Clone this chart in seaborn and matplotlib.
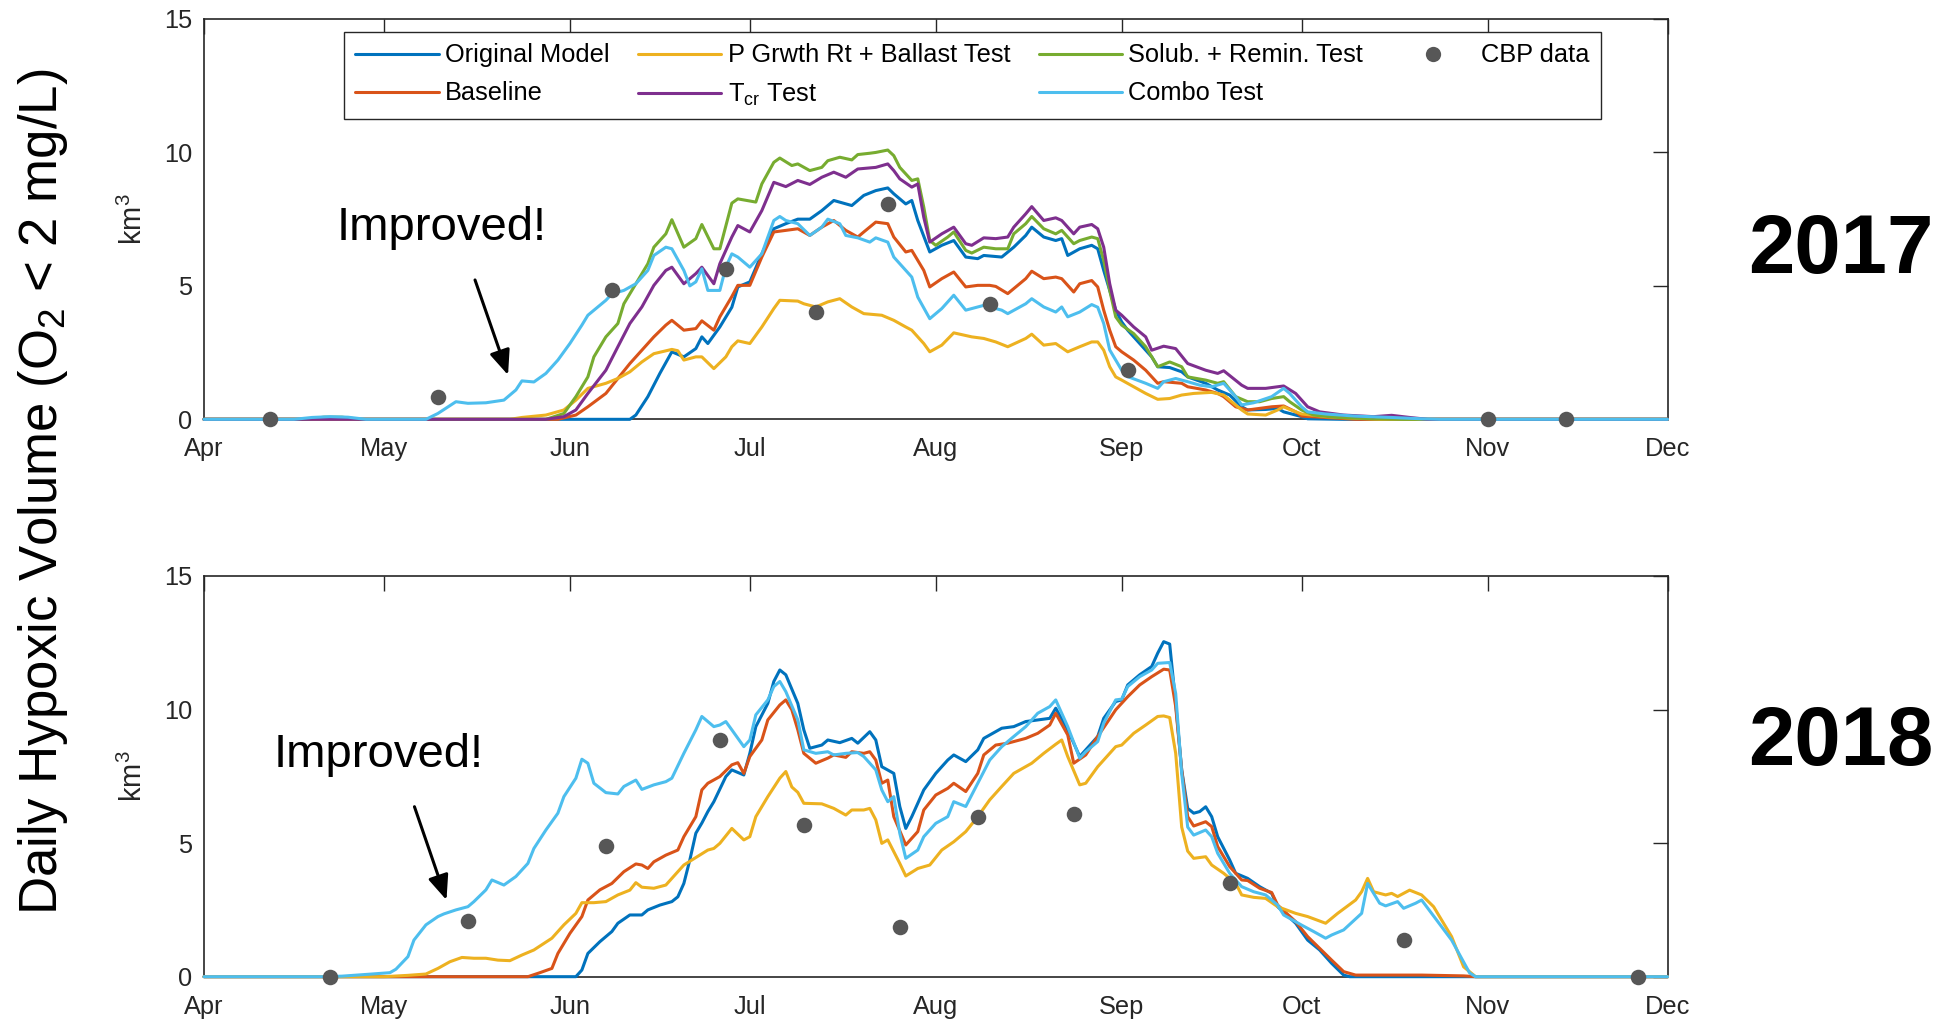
import matplotlib
matplotlib.use("Agg")
import matplotlib.pyplot as plt
from matplotlib.lines import Line2D
import pandas as pd
import seaborn as sns

# ---------------------------------------------------------------------------
# Season axis: days since 1 April, month starts used as ticks
# ---------------------------------------------------------------------------
MONTH_STARTS = [0, 30, 61, 91, 122, 153, 183, 214, 244]
MONTH_LABELS = ["Apr", "May", "Jun", "Jul", "Aug", "Sep", "Oct", "Nov", "Dec"]
Y_TICKS = [0, 5, 10, 15]

RUNS = ["Original Model", "Baseline", "P Grwth Rt + Ballast Test",
        r"T$_{\rm cr}$ Test", "Solub. + Remin. Test", "Combo Test"]
RUN_COLORS = ["#0072BD", "#D95319", "#EDB120", "#7E2F8E", "#77AC30", "#4DBEEE"]
CBP_COLOR = "#575757"

# ---------------------------------------------------------------------------
# 2017 daily hypoxic volume (day since Apr 1, km^3)
# ---------------------------------------------------------------------------
orig_2017 = [(0, 0), (71, 0), (72, 0.16), (74, 0.85), (76, 1.72), (78, 2.53), (80, 2.34),
             (82, 2.65), (83, 3.09), (84, 2.84), (86, 3.46), (88, 4.2), (89, 4.96), (91, 5.15),
             (93, 6.2), (95, 7.14), (97, 7.33), (99, 7.5), (101, 7.5), (103, 7.82), (105, 8.2),
             (108, 8.01), (110, 8.39), (112, 8.57), (114, 8.67), (115, 8.45), (117, 8.07),
             (118, 8.2), (119, 7.45), (121, 6.27), (123, 6.52), (125, 6.7), (127, 6.08),
             (129, 6.02), (130, 6.14), (133, 6.08), (135, 6.45), (137, 6.89), (138, 7.2),
             (140, 6.83), (142, 6.7), (143, 6.77), (144, 6.14), (146, 6.39), (148, 6.52),
             (149, 6.39), (150, 5.58), (151, 4.83), (152, 4.09), (153, 3.65), (154, 3.34),
             (156, 2.84), (158, 2.34), (159, 1.97), (161, 1.94), (163, 1.78), (164, 1.59),
             (167, 1.35), (169, 1.1), (171, 0.91), (173, 0.47), (174, 0.35), (177, 0.37),
             (179, 0.41), (180, 0.28), (183, 0.1), (184, 0.02), (190, 0), (244, 0)]

base_2017 = [(0, 0), (59, 0), (62, 0.16), (64, 0.47), (67, 0.97), (69, 1.53), (71, 2.09),
             (73, 2.59), (75, 3.09), (77, 3.53), (78, 3.71), (80, 3.34), (82, 3.4), (83, 3.69),
             (85, 3.34), (86, 3.84), (88, 4.6), (89, 5.02), (91, 5.02), (93, 6.08), (95, 7.02),
             (97, 7.08), (99, 7.14), (101, 6.89), (103, 7.2), (105, 7.45), (107, 7.08),
             (109, 6.83), (110, 7.02), (112, 7.39), (114, 7.33), (115, 6.83), (117, 6.27),
             (118, 6.33), (120, 5.58), (121, 4.96), (123, 5.27), (125, 5.52), (127, 4.96),
             (129, 5.02), (131, 5.02), (132, 4.98), (134, 4.71), (137, 5.27), (138, 5.55),
             (140, 5.27), (142, 5.33), (143, 5.27), (145, 4.77), (146, 5.08), (148, 5.2),
             (149, 4.96), (150, 4.09), (151, 3.34), (152, 2.72), (153, 2.53), (155, 2.22),
             (157, 1.84), (159, 1.35), (160, 1.41), (163, 1.35), (164, 1.22), (167, 1.1),
             (169, 0.97), (170, 0.85), (172, 0.47), (174, 0.35), (176, 0.41), (178, 0.47),
             (180, 0.5), (182, 0.28), (183, 0.12), (187, 0.07), (192, 0), (244, 0)]

pgr_2017 = [(0, 0), (51, 0), (53, 0.07), (57, 0.16), (60, 0.35), (62, 0.72), (64, 1.16),
            (67, 1.35), (69, 1.53), (71, 1.78), (73, 2.15), (75, 2.46), (78, 2.62), (79, 2.57),
            (80, 2.22), (82, 2.34), (83, 2.34), (85, 1.9), (87, 2.34), (88, 2.72), (89, 2.94),
            (91, 2.84), (93, 3.46), (95, 4.15), (96, 4.46), (99, 4.43), (100, 4.33), (102, 4.21),
            (104, 4.4), (106, 4.52), (108, 4.21), (110, 3.96), (113, 3.9), (115, 3.71),
            (117, 3.46), (118, 3.34), (120, 2.84), (121, 2.53), (123, 2.78), (125, 3.24),
            (128, 3.09), (130, 3.03), (132, 2.9), (134, 2.72), (137, 3.03), (138, 3.19),
            (140, 2.78), (142, 2.84), (144, 2.53), (146, 2.72), (148, 2.9), (149, 2.9),
            (150, 2.59), (151, 1.97), (152, 1.59), (153, 1.47), (155, 1.22), (157, 0.97),
            (159, 0.75), (161, 0.78), (163, 0.91), (165, 0.97), (168, 1.01), (170, 0.91),
            (171, 0.72), (173, 0.35), (174, 0.2), (177, 0.16), (179, 0.35), (180, 0.47),
            (181, 0.37), (183, 0.2), (187, 0.1), (192, 0.04), (196, 0), (244, 0)]

tcr_2017 = [(0, 0), (57, 0), (60, 0.1), (62, 0.35), (64, 0.97), (67, 1.84), (69, 2.72),
            (71, 3.59), (73, 4.21), (75, 5.02), (77, 5.58), (78, 5.7), (80, 5.08), (82, 5.46),
            (83, 5.7), (85, 5.08), (86, 5.83), (88, 6.83), (89, 7.26), (91, 7.02), (93, 7.82),
            (95, 8.88), (97, 8.72), (99, 8.95), (101, 8.8), (103, 9.07), (105, 9.26),
            (107, 9.07), (109, 9.38), (112, 9.44), (114, 9.57), (115, 9.32), (116, 9.01),
            (118, 8.7), (119, 8.82), (120, 7.57), (121, 6.64), (123, 6.95), (125, 7.2),
            (127, 6.58), (128, 6.52), (130, 6.8), (132, 6.77), (134, 6.83), (135, 7.2),
            (137, 7.7), (138, 7.97), (140, 7.45), (142, 7.55), (143, 7.45), (145, 6.95),
            (146, 7.2), (148, 7.3), (149, 7.14), (150, 6.45), (151, 5.08), (152, 4.09),
            (153, 3.9), (155, 3.46), (157, 3.09), (158, 2.59), (160, 2.74), (162, 2.65),
            (164, 2.09), (167, 1.84), (169, 1.72), (170, 1.82), (173, 1.28), (174, 1.16),
            (177, 1.16), (178, 1.19), (180, 1.25), (182, 0.97), (184, 0.47), (186, 0.28),
            (190, 0.16), (195, 0.1), (198, 0.15), (201, 0.07), (204, 0), (244, 0)]

sol_2017 = [(0, 0), (17, 0), (20, 0.08), (23, 0.08), (26, 0), (57, 0), (60, 0.22), (62, 0.85),
            (64, 1.59), (65, 2.34), (67, 3.09), (69, 3.59), (70, 4.33), (72, 5.08), (74, 5.83),
            (75, 6.45), (77, 6.95), (78, 7.48), (80, 6.45), (82, 6.77), (83, 7.3), (85, 6.39),
            (86, 6.39), (88, 8.1), (89, 8.26), (92, 8.14), (93, 8.82), (95, 9.63), (96, 9.79),
            (98, 9.51), (99, 9.57), (101, 9.32), (103, 9.44), (104, 9.69), (106, 9.82),
            (108, 9.72), (109, 9.92), (111, 9.97), (112, 10.0), (114, 10.09), (115, 9.88),
            (116, 9.44), (118, 8.95), (119, 9.01), (120, 7.95), (121, 6.7), (122, 6.52),
            (124, 6.83), (125, 7.02), (127, 6.33), (128, 6.23), (130, 6.45), (132, 6.39),
            (134, 6.39), (135, 6.95), (137, 7.33), (138, 7.6), (140, 7.14), (142, 6.95),
            (143, 7.08), (145, 6.58), (146, 6.7), (148, 6.83), (149, 6.77), (150, 5.95),
            (151, 4.83), (152, 3.84), (153, 3.53), (155, 3.21), (157, 2.72), (159, 1.97),
            (161, 2.15), (163, 1.97), (164, 1.59), (167, 1.47), (169, 1.35), (170, 1.41),
            (172, 0.85), (174, 0.66), (176, 0.66), (178, 0.78), (180, 0.85), (181, 0.66),
            (183, 0.35), (185, 0.16), (189, 0.07), (195, 0.02), (200, 0), (244, 0)]

combo_2017 = [(0, 0), (15, 0), (18, 0.07), (21, 0.1), (24, 0.08), (27, 0), (37, 0), (39, 0.22),
              (42, 0.66), (44, 0.6), (47, 0.62), (50, 0.72), (52, 1.1), (53, 1.44), (55, 1.4),
              (57, 1.72), (59, 2.22), (61, 2.84), (63, 3.53), (64, 3.9), (67, 4.46), (68, 4.7),
              (70, 4.83), (72, 5.08), (74, 5.58), (75, 6.14), (77, 6.45), (78, 6.39),
              (80, 5.58), (81, 5.0), (82, 5.15), (83, 5.64), (84, 4.83), (86, 4.83), (87, 5.7),
              (88, 6.2), (89, 6.08), (91, 5.7), (93, 6.2), (95, 7.45), (96, 7.6), (97, 7.45),
              (99, 7.33), (101, 6.89), (103, 7.2), (104, 7.5), (106, 7.33), (107, 6.89),
              (109, 6.8), (111, 6.64), (112, 6.8), (114, 6.64), (115, 6.08), (117, 5.58),
              (118, 5.33), (119, 4.58), (121, 3.77), (123, 4.15), (124, 4.4), (125, 4.65),
              (127, 4.09), (129, 4.21), (130, 4.27), (133, 4.09), (134, 3.96), (137, 4.33),
              (138, 4.52), (140, 4.21), (142, 4.02), (143, 4.21), (144, 3.84), (146, 4.02),
              (148, 4.3), (149, 4.2), (150, 3.59), (151, 2.6), (152, 2.22), (153, 1.84),
              (154, 1.6), (157, 1.35), (159, 1.16), (160, 1.41), (162, 1.53), (164, 1.41),
              (166, 1.28), (168, 1.22), (170, 1.35), (172, 0.85), (173, 0.54), (175, 0.62),
              (178, 0.85), (180, 1.16), (181, 0.97), (183, 0.47), (184, 0.28), (187, 0.2),
              (192, 0.12), (198, 0.07), (203, 0.02), (206, 0), (244, 0)]

cbp_day_2017 = [11, 39, 68, 87, 102, 114, 131, 154, 214, 227]
cbp_vol_2017 = [0, 0.82, 4.83, 5.62, 4.03, 8.05, 4.31, 1.84, 0, 0]

# ---------------------------------------------------------------------------
# 2018 daily hypoxic volume (day since Apr 1, km^3)
# ---------------------------------------------------------------------------
orig_2018 = [(0, 0), (62, 0), (63, 0.25), (64, 0.87), (66, 1.31), (68, 1.69), (69, 2.0),
             (71, 2.31), (73, 2.31), (74, 2.5), (76, 2.68), (78, 2.81), (79, 2.99), (80, 3.49),
             (81, 4.37), (82, 5.37), (83, 5.75), (84, 6.18), (85, 6.55), (87, 7.49), (88, 7.74),
             (90, 7.55), (91, 8.36), (92, 9.36), (94, 10.23), (95, 11.05), (96, 11.48),
             (97, 11.3), (99, 10.23), (100, 9.24), (101, 8.55), (103, 8.67), (104, 8.86),
             (106, 8.76), (108, 8.92), (109, 8.74), (111, 9.17), (112, 8.86), (113, 7.86),
             (115, 7.61), (116, 6.37), (117, 5.55), (118, 5.99), (120, 6.99), (122, 7.61),
             (124, 8.11), (125, 8.3), (127, 8.05), (129, 8.49), (130, 8.92), (133, 9.3),
             (135, 9.36), (137, 9.55), (139, 9.61), (141, 9.67), (142, 10.05), (144, 9.24),
             (146, 8.24), (147, 8.49), (149, 8.99), (150, 9.67), (152, 10.3), (153, 10.36),
             (154, 10.92), (156, 11.3), (158, 11.61), (159, 12.11), (160, 12.54), (161, 12.45),
             (162, 10.23), (163, 7.74), (164, 6.3), (165, 6.12), (166, 6.18), (167, 6.36),
             (168, 5.99), (169, 5.24), (171, 4.37), (172, 3.87), (174, 3.68), (176, 3.37),
             (178, 3.12), (179, 2.62), (182, 2.0), (184, 1.37), (186, 1.0), (188, 0.5),
             (190, 0.06), (191, 0), (244, 0)]

base_2018 = [(0, 0), (54, 0), (56, 0.15), (58, 0.31), (59, 0.87), (61, 1.62), (63, 2.25),
             (64, 2.87), (66, 3.25), (68, 3.49), (70, 3.93), (72, 4.22), (73, 4.18), (74, 4.05),
             (75, 4.3), (77, 4.55), (79, 4.74), (80, 5.24), (82, 5.99), (83, 6.99), (84, 7.24),
             (86, 7.49), (88, 7.93), (89, 8.01), (90, 7.61), (91, 8.24), (93, 8.86), (94, 9.61),
             (96, 10.17), (97, 10.36), (98, 9.99), (99, 9.24), (100, 8.36), (102, 7.99),
             (104, 8.18), (105, 8.3), (107, 8.21), (108, 8.42), (110, 8.36), (111, 8.42),
             (112, 8.11), (113, 7.24), (114, 7.36), (115, 5.99), (117, 4.93), (119, 5.43),
             (120, 6.24), (122, 6.8), (124, 7.05), (125, 7.24), (127, 6.93), (129, 7.61),
             (130, 8.3), (132, 8.67), (134, 8.74), (137, 8.92), (139, 9.11), (141, 9.42),
             (142, 9.86), (144, 9.05), (145, 7.99), (147, 8.3), (149, 8.99), (152, 9.99),
             (154, 10.48), (156, 10.92), (158, 11.23), (160, 11.51), (161, 11.48),
             (162, 10.11), (163, 7.74), (164, 5.99), (165, 5.64), (167, 5.8), (168, 5.62),
             (169, 4.87), (171, 4.12), (173, 3.62), (174, 3.6), (176, 3.31), (178, 3.15),
             (179, 2.68), (182, 2.06), (184, 1.5), (186, 1.06), (188, 0.62), (190, 0.19),
             (192, 0.06), (203, 0.06), (210, 0.03), (212, 0), (244, 0)]

pgr_2018 = [(0, 0), (30, 0), (34, 0.05), (37, 0.1), (39, 0.31), (41, 0.56), (43, 0.72),
            (45, 0.69), (47, 0.69), (49, 0.62), (51, 0.6), (53, 0.81), (55, 1.0), (58, 1.44),
            (60, 1.94), (62, 2.37), (63, 2.77), (65, 2.77), (67, 2.81), (69, 3.06), (71, 3.24),
            (72, 3.52), (73, 3.35), (75, 3.31), (77, 3.43), (78, 3.68), (80, 4.18), (83, 4.6),
            (84, 4.74), (85, 4.8), (86, 4.99), (88, 5.55), (90, 5.12), (91, 5.24), (92, 5.99),
            (94, 6.74), (96, 7.43), (97, 7.68), (98, 7.1), (99, 6.9), (100, 6.49), (103, 6.47),
            (105, 6.3), (107, 6.05), (108, 6.24), (110, 6.24), (111, 6.3), (112, 5.87),
            (113, 4.99), (114, 5.12), (116, 4.24), (117, 3.77), (119, 4.05), (121, 4.18),
            (123, 4.74), (125, 5.05), (127, 5.43), (129, 5.99), (131, 6.62), (133, 7.12),
            (135, 7.61), (138, 7.99), (140, 8.36), (142, 8.7), (143, 8.86), (144, 8.24),
            (146, 7.18), (147, 7.24), (149, 7.86), (152, 8.61), (153, 8.67), (155, 9.11),
            (157, 9.42), (159, 9.74), (160, 9.76), (161, 9.7), (162, 8.36), (163, 5.6),
            (164, 4.7), (165, 4.43), (167, 4.49), (168, 4.18), (170, 3.87), (172, 3.5),
            (173, 3.06), (175, 2.97), (177, 2.93), (179, 2.62), (182, 2.37), (184, 2.25),
            (187, 2.0), (189, 2.37), (192, 2.87), (193, 3.18), (194, 3.68), (195, 3.18),
            (197, 3.06), (198, 3.12), (199, 3.0), (201, 3.24), (203, 3.06), (205, 2.62),
            (208, 1.5), (210, 0.37), (212, 0), (244, 0)]

combo_2018 = [(0, 0), (20, 0), (23, 0.02), (28, 0.1), (31, 0.15), (32, 0.28), (34, 0.75),
              (35, 1.37), (37, 1.94), (39, 2.25), (40, 2.35), (42, 2.5), (44, 2.62), (45, 2.81),
              (47, 3.25), (48, 3.62), (50, 3.43), (52, 3.75), (54, 4.24), (55, 4.8), (57, 5.49),
              (59, 6.12), (60, 6.74), (62, 7.43), (63, 8.14), (64, 7.99), (65, 7.24), (67, 6.89),
              (69, 6.84), (70, 7.12), (72, 7.36), (73, 7.01), (75, 7.18), (77, 7.3), (78, 7.43),
              (80, 8.36), (82, 9.24), (83, 9.74), (85, 9.36), (86, 9.42), (87, 9.55), (88, 9.24),
              (90, 8.61), (91, 8.86), (92, 9.8), (94, 10.36), (95, 10.86), (96, 11.05),
              (97, 10.67), (99, 9.61), (100, 8.49), (102, 8.36), (104, 8.42), (105, 8.3),
              (107, 8.36), (109, 8.39), (110, 8.24), (112, 7.74), (113, 6.99), (114, 6.55),
              (115, 6.74), (116, 5.37), (117, 4.43), (119, 4.74), (120, 5.24), (122, 5.74),
              (124, 5.99), (125, 6.55), (127, 6.37), (129, 7.24), (131, 8.11), (133, 8.61),
              (135, 8.99), (137, 9.36), (139, 9.86), (141, 10.11), (142, 10.36), (144, 9.36),
              (146, 8.18), (147, 8.42), (149, 8.8), (150, 9.49), (152, 10.36), (153, 10.39),
              (154, 10.86), (156, 11.23), (158, 11.48), (159, 11.73), (161, 11.76),
              (162, 10.6), (163, 7.6), (164, 5.6), (165, 5.3), (167, 5.49), (168, 5.24),
              (169, 4.62), (171, 3.87), (173, 3.37), (175, 3.18), (177, 3.06), (179, 2.68),
              (180, 2.31), (183, 1.93), (185, 1.69), (187, 1.44), (188, 1.56), (190, 1.75),
              (193, 2.37), (194, 3.49), (196, 2.75), (197, 2.65), (199, 2.81), (200, 2.56),
              (202, 2.75), (203, 2.87), (208, 1.37), (211, 0.14), (212, 0), (244, 0)]

cbp_day_2018 = [21, 44, 67, 86, 100, 116, 129, 145, 171, 200, 239]
cbp_vol_2018 = [0, 2.09, 4.89, 8.86, 5.68, 1.86, 5.96, 6.1, 3.49, 1.39, 0]


def to_frame(series):
    rows = []
    for run, points in series.items():
        for day, vol in points:
            rows.append({"run": run, "day": day, "volume": vol})
    return pd.DataFrame(rows)


runs_2017 = to_frame({
    RUNS[0]: orig_2017, RUNS[1]: base_2017, RUNS[2]: pgr_2017,
    RUNS[4]: sol_2017, RUNS[3]: tcr_2017, RUNS[5]: combo_2017,
})
runs_2018 = to_frame({
    RUNS[0]: orig_2018, RUNS[1]: base_2018, RUNS[2]: pgr_2018, RUNS[5]: combo_2018,
})
cbp_2017 = pd.DataFrame({"day": cbp_day_2017, "volume": cbp_vol_2017})
cbp_2018 = pd.DataFrame({"day": cbp_day_2018, "volume": cbp_vol_2018})

# ---------------------------------------------------------------------------
# Styling
# ---------------------------------------------------------------------------
sns.set_theme(style="white")
plt.rcParams["font.family"] = ["Liberation Sans", "DejaVu Sans"]
plt.rcParams["mathtext.fontset"] = "custom"
plt.rcParams["mathtext.rm"] = "Liberation Sans"
plt.rcParams["mathtext.it"] = "Liberation Sans:italic"
plt.rcParams["mathtext.bf"] = "Liberation Sans:bold"
plt.rcParams["text.color"] = "black"

AX_COLOR = "#262626"
TICK_FS = 18.3
palette = dict(zip(RUNS, RUN_COLORS))

fig = plt.figure(figsize=(19.54, 10.21), dpi=100)
ax_top = fig.add_axes([0.1044, 0.5893, 0.7490, 0.3921])
ax_bot = fig.add_axes([0.1044, 0.0434, 0.7490, 0.3925])


def draw_panel(ax, runs, cbp):
    order = [r for r in [RUNS[0], RUNS[1], RUNS[2], RUNS[4], RUNS[3], RUNS[5]]
             if r in set(runs["run"])]
    sns.lineplot(data=runs, x="day", y="volume", hue="run", hue_order=order,
                 palette=palette, estimator=None, sort=False, linewidth=2.2,
                 legend=False, clip_on=False, zorder=3, ax=ax)
    sns.scatterplot(data=cbp, x="day", y="volume", color=CBP_COLOR, s=125,
                    linewidth=0, clip_on=False, zorder=4, legend=False, ax=ax)
    ax.set_xlim(MONTH_STARTS[0], MONTH_STARTS[-1])
    ax.set_ylim(0, 15)
    ax.set_xticks(MONTH_STARTS)
    ax.set_xticklabels(MONTH_LABELS)
    ax.set_yticks(Y_TICKS)
    ax.set_xlabel("")
    ax.set_ylabel("km$^{3}$", fontsize=21, color=AX_COLOR, va="center")
    ax.yaxis.set_label_coords(-0.0485, 0.5)
    ax.tick_params(direction="in", length=10.5, width=1.0, top=True, right=True,
                   labelsize=TICK_FS, color=AX_COLOR, labelcolor=AX_COLOR)
    ax.tick_params(axis="x", pad=13)
    ax.tick_params(axis="y", pad=8.5)
    for sp in ax.spines.values():
        sp.set_visible(True)
        sp.set_color(AX_COLOR)
        sp.set_linewidth(1.2)
    ax.set_facecolor("white")


draw_panel(ax_top, runs_2017, cbp_2017)
draw_panel(ax_bot, runs_2018, cbp_2018)

# Legend (column-wise: 2 rows x 4 columns)
handles = [Line2D([], [], color=c, lw=2.2) for c in RUN_COLORS]
labels = list(RUNS)
handles.append(Line2D([], [], ls="none", marker="o", markersize=11,
                      markerfacecolor=CBP_COLOR, markeredgewidth=0))
labels.append("CBP data")
leg = ax_top.legend(handles, labels, ncol=4, loc="upper left",
                    bbox_to_anchor=(0.0957, 0.9675), borderaxespad=0,
                    fontsize=TICK_FS, frameon=True, fancybox=False, framealpha=1,
                    edgecolor=AX_COLOR, handlelength=3.27, handletextpad=0.25,
                    columnspacing=1.12, borderpad=0.45, labelspacing=0.55)
leg.get_frame().set_linewidth(1.0)
for t in leg.get_texts():
    t.set_color("black")

# Shared quantity label and year tags
fig.text(0.022, 0.518, r"Daily Hypoxic Volume (O$_{\rm 2}$ < 2 mg/L)", rotation=90,
         ha="center", va="center", fontsize=38, color="black")
fig.text(0.942, 0.754, "2017", ha="center", va="center", fontsize=60,
         fontweight="bold", color="black")
fig.text(0.942, 0.2723, "2018", ha="center", va="center", fontsize=60,
         fontweight="bold", color="black")

# "Improved!" callouts with arrows
fig.text(0.1723, 0.7649, "Improved!", ha="left", va="baseline", fontsize=34, color="black")
fig.text(0.1402, 0.249, "Improved!", ha="left", va="baseline", fontsize=34, color="black")
arrow = dict(arrowstyle="-|>,head_length=0.6,head_width=0.25", lw=2.2,
             color="black", mutation_scale=25, shrinkA=0, shrinkB=0)
ax_top.annotate("", xy=(0.2600, 0.6327), xytext=(0.2431, 0.7258),
                xycoords="figure fraction", textcoords="figure fraction",
                arrowprops=arrow, annotation_clip=False)
ax_bot.annotate("", xy=(0.2285, 0.1185), xytext=(0.2121, 0.2099),
                xycoords="figure fraction", textcoords="figure fraction",
                arrowprops=arrow, annotation_clip=False)

fig.savefig("out.png", dpi=100, facecolor="white")
